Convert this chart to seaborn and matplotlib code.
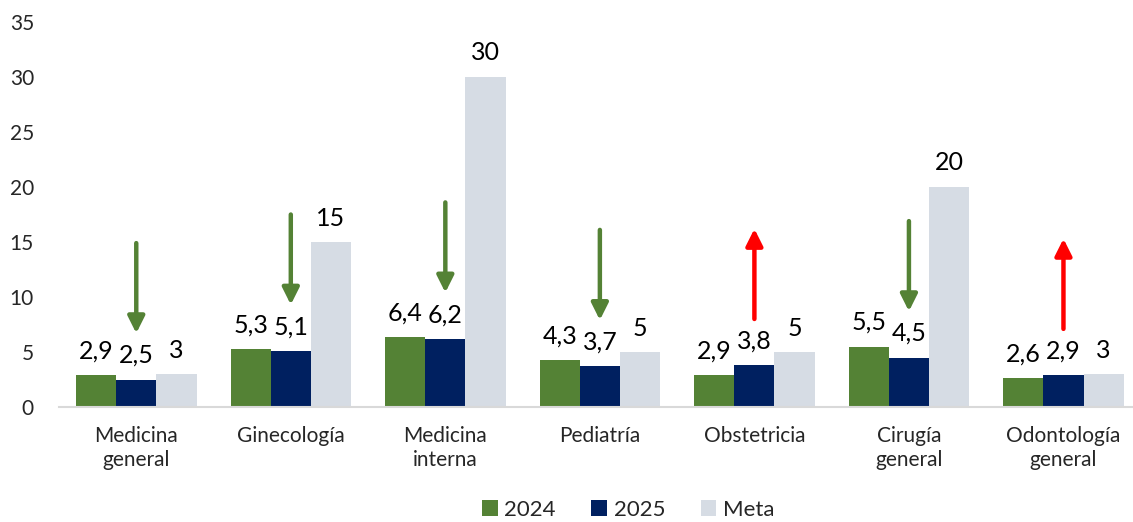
import pandas as pd
import seaborn as sns
import matplotlib.pyplot as plt

categorias = ['Medicina\ngeneral', 'Ginecología', 'Medicina\ninterna', 'Pediatría',
              'Obstetricia', 'Cirugía\ngeneral', 'Odontología\ngeneral']
v2024 = [2.9, 5.3, 6.4, 4.3, 2.9, 5.5, 2.6]
v2025 = [2.5, 5.1, 6.2, 3.7, 3.8, 4.5, 2.9]
meta = [3, 15, 30, 5, 5, 20, 3]
# tendencia 2025 vs 2024: -1 baja, +1 sube
tendencia = [-1, -1, -1, -1, 1, -1, 1]

series = ['2024', '2025', 'Meta']
colores = ['#548235', '#002060', '#D6DCE4']

rows = []
for serie, vals in zip(series, [v2024, v2025, meta]):
    for cat, v in zip(categorias, vals):
        rows.append({'categoria': cat, 'serie': serie, 'valor': v})
df = pd.DataFrame(rows)

sns.set_style('white')
plt.rcParams['font.family'] = ['Lato', 'DejaVu Sans']

fig = plt.figure(figsize=(11.33, 5.22), dpi=100)
ax = fig.add_axes([59 / 1133, 115 / 522, 1 - 59 / 1133, 385 / 522])

sns.barplot(data=df, x='categoria', y='valor', hue='serie', palette=colores,
            width=0.78, saturation=1, linewidth=0, ax=ax, legend=True)

def fmt(v):
    return f'{v:g}'.replace('.', ',')

for cont in ax.containers:
    ax.bar_label(cont, labels=[fmt(b.get_height()) for b in cont], padding=9,
                 fontsize=18, color='black')

# flechas sobre la barra 2025
xs = [b.get_x() + b.get_width() / 2 for b in ax.containers[1]]
for x, v, t in zip(xs, v2025, tendencia):
    low = v + 4.2
    high = low + 8.2
    if t < 0:
        start, end, col = high, low, '#548235'
    else:
        start, end, col = low, high, '#FF0000'
    ax.annotate('', xy=(x, end), xytext=(x, start),
                arrowprops=dict(arrowstyle='-|>,head_width=0.5,head_length=1.0',
                                color=col, lw=3.2, shrinkA=0, shrinkB=0))

ax.set_ylim(0, 35)
ax.set_xlim(-0.5, 6.45)
ax.set_yticks(range(0, 36, 5))
ax.set_xlabel('')
ax.set_ylabel('')
for s in ['top', 'right', 'left']:
    ax.spines[s].set_visible(False)
ax.spines['bottom'].set_color('#D9D9D9')
ax.spines['bottom'].set_linewidth(1.5)
ax.tick_params(axis='y', labelsize=15, length=0, pad=18)
ax.tick_params(axis='x', labelsize=15, length=0, pad=14)

handles, labels = ax.get_legend_handles_labels()
ax.legend(handles, labels, loc='lower center', bbox_to_anchor=(0.53, -0.345),
          ncol=3, frameon=False, fontsize=16, handlelength=0.7, handleheight=0.7,
          handletextpad=0.3, columnspacing=1.6)

fig.savefig('out.png', dpi=100)
